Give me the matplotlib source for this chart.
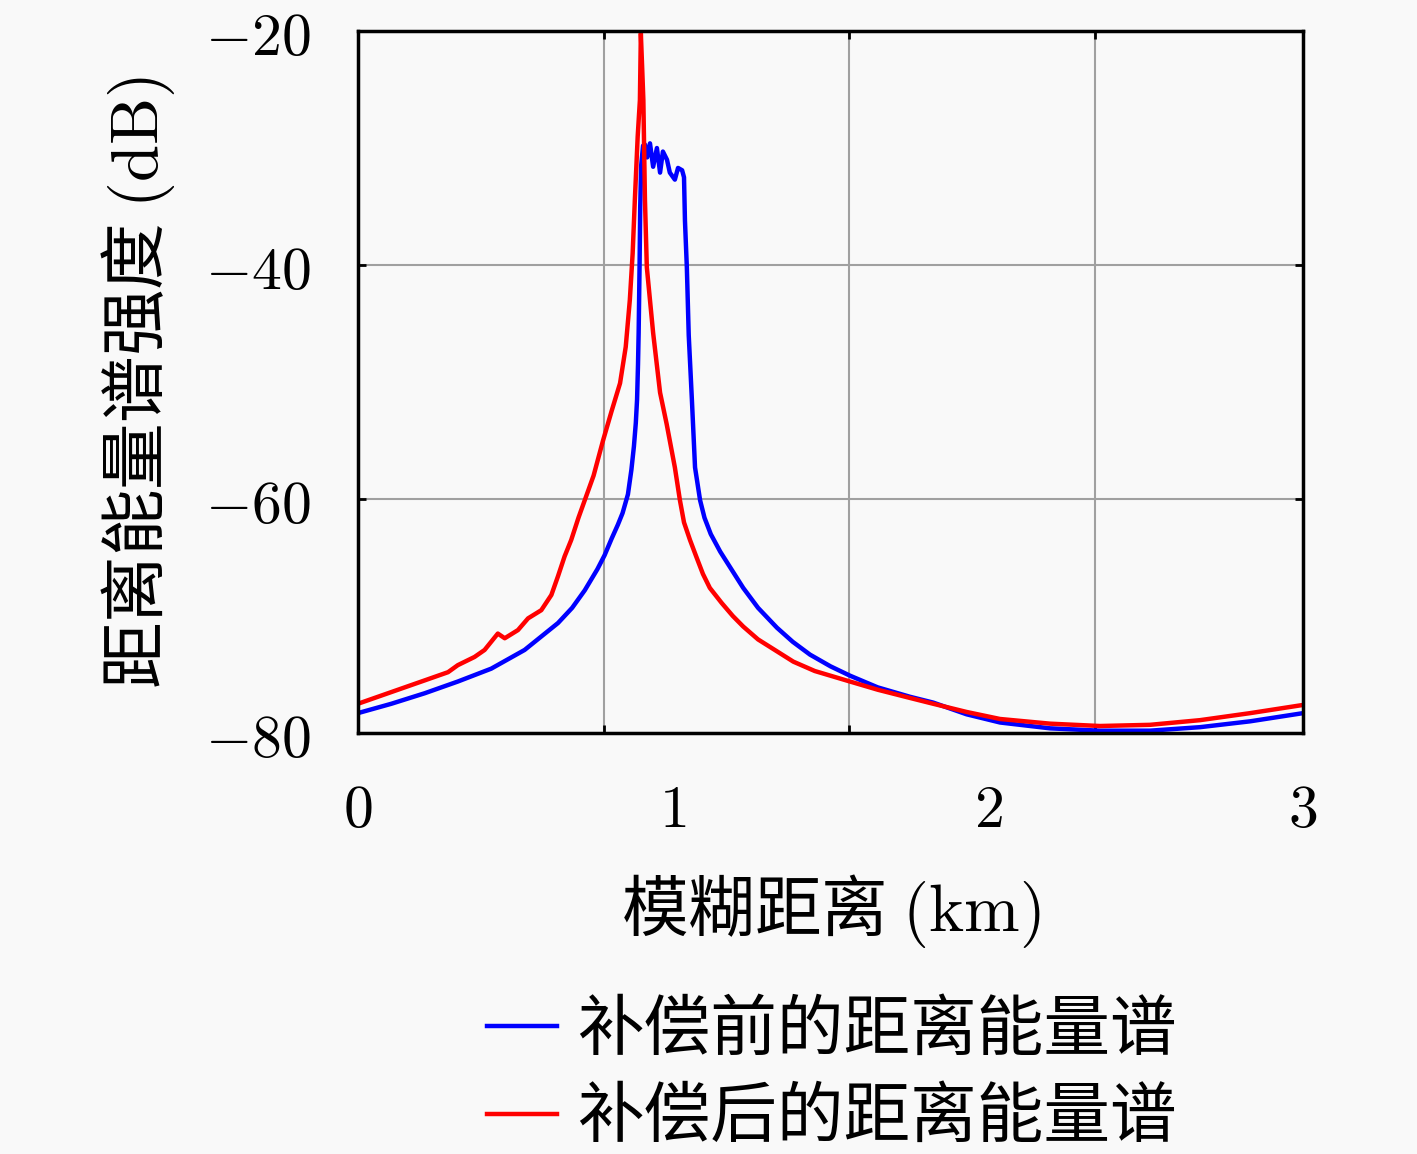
import matplotlib
matplotlib.use('Agg')
import matplotlib.pyplot as plt

plt.rcParams['font.family'] = ['Noto Sans CJK SC', 'DejaVu Sans']
plt.rcParams['mathtext.fontset'] = 'cm'

# before compensation (blue)
xBefore = [0.000, 0.106, 0.212, 0.317, 0.423, 0.529, 0.635, 0.680, 0.720, 0.760,
           0.783, 0.805, 0.825, 0.840, 0.857, 0.868, 0.876, 0.882, 0.886, 0.889,
           0.891, 0.894, 0.896, 0.899, 0.905,
           0.911, 0.918, 0.927, 0.937, 0.949, 0.959, 0.968, 0.981, 0.990, 1.006,
           1.016, 1.029, 1.035, 1.038, 1.044, 1.050, 1.060, 1.070, 1.086, 1.100,
           1.120, 1.150, 1.190, 1.223, 1.270, 1.330, 1.380, 1.435, 1.500, 1.562,
           1.650, 1.752, 1.826, 1.932, 2.038, 2.197, 2.355, 2.514, 2.673, 2.832,
           3.000]
yBefore = [-78.3, -77.5, -76.6, -75.6, -74.5, -72.9, -70.6, -69.3, -67.8, -66.0,
           -64.8, -63.4, -62.2, -61.2, -59.6, -57.5, -55.5, -53.5, -51.5, -48.5,
           -45.8, -40.0, -35.0, -31.5, -29.8,
           -29.7, -30.8, -29.6, -31.6, -30.0, -32.1, -30.3, -31.0, -32.1, -32.7,
           -31.7, -31.9, -32.5, -36.2, -40.2, -46.0, -51.5, -57.3, -60.1, -61.6,
           -63.0, -64.5, -66.2, -67.6, -69.3, -71.0, -72.2, -73.3, -74.3, -75.1,
           -76.1, -76.9, -77.4, -78.4, -79.1, -79.6, -79.8, -79.8, -79.5, -79.0,
           -78.3]

# after compensation (red)
xAfter = [0.000, 0.106, 0.212, 0.286, 0.317, 0.370, 0.402, 0.423, 0.444, 0.466,
          0.508, 0.540, 0.582, 0.614, 0.635, 0.656, 0.677, 0.700, 0.720, 0.748,
          0.778, 0.805, 0.832, 0.850, 0.863, 0.872, 0.879, 0.888, 0.895, 0.898,
          0.902, 0.906, 0.911, 0.917, 0.937, 0.959, 0.980, 1.006, 1.022, 1.035,
          1.054, 1.075, 1.095, 1.117, 1.155, 1.190, 1.223, 1.270, 1.329, 1.382,
          1.450, 1.562, 1.650, 1.752, 1.826, 1.932, 2.038, 2.197, 2.355, 2.514,
          2.673, 2.832, 3.000]
yAfter = [-77.5, -76.5, -75.5, -74.8, -74.2, -73.5, -72.9, -72.2, -71.5, -71.9,
          -71.2, -70.2, -69.5, -68.2, -66.6, -64.9, -63.5, -61.6, -60.1, -58.0,
          -55.0, -52.5, -50.1, -47.0, -43.0, -39.0, -34.4, -29.0, -25.9, -20.2,
          -23.0, -25.9, -34.4, -40.2, -45.8, -50.9, -53.6, -57.3, -60.1, -62.0,
          -63.5, -65.0, -66.4, -67.6, -68.9, -70.0, -70.9, -72.0, -73.0, -73.9,
          -74.7, -75.6, -76.3, -77.0, -77.5, -78.2, -78.8, -79.2, -79.4, -79.3,
          -78.9, -78.3, -77.6]

xTicks = [0, 1, 2, 3]
xTickLabels = ['$0$', '$1$', '$2$', '$3$']
xGrid = [0.781, 1.559, 2.340]
yTicks = [-80, -60, -40, -20]
yTickLabels = ['$-80$', '$-60$', '$-40$', '$-20$']
legendLabels = ['补偿前的距离能量谱', '补偿后的距离能量谱']

bg = '#f9f9f9'
fig = plt.figure(figsize=(14.17, 11.54), dpi=100, facecolor=bg)
ax = fig.add_axes([0.2526, 0.3648, 0.667, 0.6083], facecolor=bg)

l1, = ax.plot(xBefore, yBefore, color='#0000ff', linewidth=3.2)
l2, = ax.plot(xAfter, yAfter, color='#ff0000', linewidth=3.2)

ax.set_xlim(0, 3)
ax.set_ylim(-80, -20)

ax.set_xticks(xTicks)
ax.set_xticklabels(xTickLabels)
ax.set_xticks(xGrid, minor=True)
ax.set_yticks(yTicks)
ax.set_yticklabels(yTickLabels)

ax.tick_params(axis='x', which='major', length=0, pad=34, labelsize=43)
ax.tick_params(axis='x', which='minor', direction='in', length=6, width=2,
               top=True, bottom=True)
ax.tick_params(axis='y', which='major', direction='in', length=6, width=2,
               left=True, right=True, pad=34, labelsize=43)

ax.grid(True, which='minor', axis='x', color='#a0a0a0', linewidth=1.5)
ax.grid(True, which='major', axis='y', color='#a0a0a0', linewidth=1.5)
ax.set_axisbelow(True)

for s in ax.spines.values():
    s.set_linewidth(2.5)

ax.set_xlabel('模糊距离 $(\\mathrm{km})$', fontsize=48, labelpad=22)
ax.set_ylabel('距离能量谱强度 $(\\mathrm{dB})$', fontsize=48, labelpad=20)

fig.legend([l1, l2], legendLabels, loc='upper left',
           bbox_to_anchor=(0.344, 0.136), frameon=False, fontsize=48,
           handlelength=1.05, handletextpad=0.3, labelspacing=0.3, borderpad=0,
           borderaxespad=0)

fig.savefig('out.png', dpi=100, facecolor=bg)
